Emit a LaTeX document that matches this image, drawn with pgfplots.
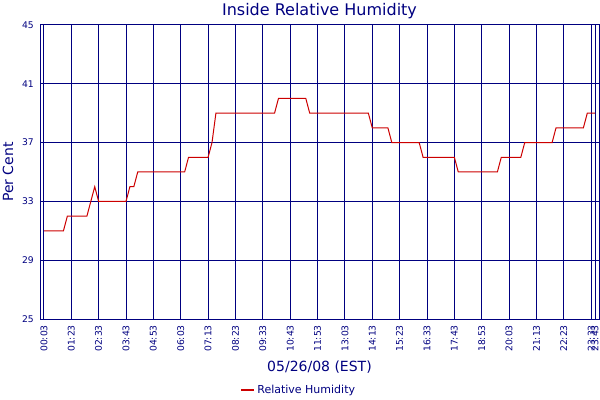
\documentclass[border=0pt]{standalone}
\usepackage{fontspec}
\setmainfont{DejaVu Sans}
\usepackage{pgfplots}
\pgfplotsset{compat=1.18}
\definecolor{navy}{HTML}{000080}
\definecolor{rhred}{HTML}{CC0000}
\begin{document}
\begin{tikzpicture}
\path[use as bounding box] (0,0) rectangle (600bp,400bp);
\begin{axis}[
    at={(40bp,81bp)}, anchor=south west,
    scale only axis, width=559bp, height=294bp,
    xmin=-1, xmax=142, ymin=25, ymax=45,
    xtick={0,7,14,21,28,35,42,49,56,63,70,77,84,91,98,105,112,119,126,133,140,141},
    xticklabels={00:03,01:23,02:33,03:43,04:53,06:03,07:13,08:23,09:33,10:43,11:53,13:03,14:13,15:23,16:33,17:43,18:53,20:03,21:13,22:23,23:33,23:43},
    ytick={25,29,33,37,41,45},
    major tick length=0pt,
    grid=major,
    grid style={navy, line width=1bp},
    axis line style={navy, line width=1bp},
    /pgf/number format/assume math mode=true,
    ticklabel style={font=\fontsize{9.2bp}{10bp}\selectfont, text=navy, inner sep=0pt},
    xticklabel style={rotate=90, anchor=east},
    xticklabel shift=6bp,
    yticklabel shift=6bp,
    title={Inside Relative Humidity},
    title style={font=\fontsize{16bp}{18bp}\selectfont, text=navy, at={(axis description cs:0.5,1)}, anchor=base, yshift=4bp, inner sep=0pt},
    xlabel={05/26/08 (EST)},
    xlabel style={font=\fontsize{14bp}{16bp}\selectfont, text=navy, at={(axis description cs:0.5,0)}, anchor=base, yshift=-52bp, inner sep=0pt},
    ylabel={Per Cent},
    ylabel style={font=\fontsize{14bp}{16bp}\selectfont, text=navy, at={(axis description cs:-0.0483,0.5)}, rotate=0, anchor=base, inner sep=0pt},
    legend style={draw=none, fill=none, at={(axis description cs:0.4624,-0.2415)}, anchor=center,
        font=\fontsize{11bp}{12bp}\selectfont, text=navy, nodes={inner sep=2bp}},
    legend image code/.code={\draw[rhred, line width=2.5bp] (0bp,0bp) -- (13bp,0bp);},
]
\addplot[rhred, line width=1bp] coordinates {
    (0,31) (5,31) (6,32) (11,32) (12,33) (13,34) (14,33) (21,33)
    (22,34) (23,34) (24,35) (36,35) (37,36) (42,36) (43,37) (44,39)
    (59,39) (60,40) (67,40) (68,39) (83,39) (84,38) (88,38) (89,37)
    (96,37) (97,36) (105,36) (106,35) (116,35) (117,36) (122,36) (123,37)
    (130,37) (131,38) (138,38) (139,39) (141,39)
};
\legend{Relative Humidity}
\end{axis}
\end{tikzpicture}
\end{document}
